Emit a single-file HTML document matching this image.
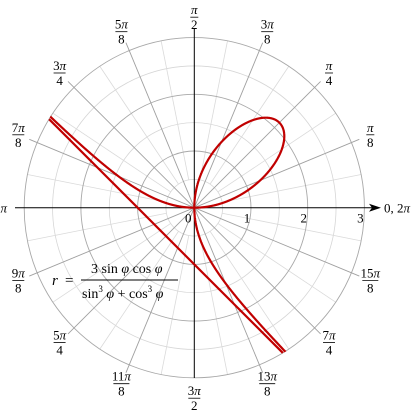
<!DOCTYPE html>
<html><head><meta charset="utf-8"><style>
html,body{margin:0;padding:0;background:#fff;}
svg{display:block;font-family:"Liberation Serif",serif;}
</style></head><body>
<svg id="chart" width="412" height="418" viewBox="0 0 412 418">
<defs><clipPath id="clip"><circle cx="194.3" cy="207.7" r="170.5"/></clipPath></defs>
<g id="grid"></g>
<g id="axes"></g>
<g id="labels"></g>
<g id="curve"></g>
<g font-size="15">
<text x="52" y="285" font-style="italic">r</text>
<text x="65" y="285">=</text>
<text x="91" y="273" font-size="14">3 sin <tspan font-style="italic">φ</tspan> cos <tspan font-style="italic">φ</tspan></text>
<line x1="81" y1="280" x2="178" y2="280" stroke="#000" stroke-width="0.9"/>
<text x="82" y="298" font-size="14">sin<tspan dy="-6" font-size="9">3</tspan><tspan dy="6"> </tspan><tspan font-style="italic">φ</tspan> + cos<tspan dy="-6" font-size="9">3</tspan><tspan dy="6"> </tspan><tspan font-style="italic">φ</tspan></text>
</g>
</svg>
<script>
const radialTicks = [0, 1, 2, 3];
const angleNums = ["0, 2π","π","3π","π","5π","3π","7π","π","9π","5π","11π","3π","13π","7π","15π"];
const angleDens = ["","8","8","4","8","2","8","4","8","","8","4","8","2","8","4","8"];
const numerators = ["", "π","π","3π","π","5π","3π","7π","π","9π","5π","11π","3π","13π","7π","15π"];
const denominators = ["", "8","4","8","2","8","4","8","","8","4","8","2","8","4","8"];
const coefA = [3];
const NS="http://www.w3.org/2000/svg";
const cx=194.3, cy=207.7, S=56.7, rMax=3;
function X(r,a){return cx + r*S*Math.cos(a);}
function Y(r,a){return cy - r*S*Math.sin(a);}
function mk(tag,attrs,parent){const e=document.createElementNS(NS,tag);for(const k in attrs)e.setAttribute(k,attrs[k]);parent.appendChild(e);return e;}
const grid=document.getElementById('grid');
// minor circles
for(let r=0.5;r<=2.6;r+=1){const c=mk('circle',{cx,cy,r:r*S,fill:'none',stroke:'#d6d6d6','stroke-width':0.8},grid);

}
// minor spokes
for(let k=1;k<32;k+=2){const a=k*Math.PI/16;const l=mk('line',{x1:X(0.5,a),y1:Y(0.5,a),x2:X(rMax,a),y2:Y(rMax,a),stroke:'#dadada','stroke-width':0.8},grid);

}
// major circles
for(const r of radialTicks){if(r===0)continue;const c=mk('circle',{cx,cy,r:r*S,fill:'none',stroke:'#a8a8a8','stroke-width':0.9},grid);

}
// major spokes
for(let k=0;k<16;k++){if(k%4===0)continue;const a=k*Math.PI/8;const l=mk('line',{x1:cx,y1:cy,x2:X(3.15,a),y2:Y(3.15,a),stroke:'#a0a0a0','stroke-width':0.9},grid);

}
// axes
const axes=document.getElementById('axes');
let ln=mk('line',{x1:15,y1:cy,x2:376,y2:cy,stroke:'#000','stroke-width':1},axes);


let ar=mk('path',{d:`M381 ${cy} L369 ${cy-4} L372 ${cy} L369 ${cy+4} Z`,fill:'#000'},axes);


ln=mk('line',{x1:cx,y1:28,x2:cx,y2:378,stroke:'#000','stroke-width':1},axes);


for(const r of radialTicks){const t=mk('text',{x:r===0?cx-6:X(r,0)-4,y:cy+15,'font-size':13,'text-anchor':'middle'},axes);t.textContent=String(r);

}
let t0=mk('text',{x:384,y:cy+5,'font-size':13},axes);t0.innerHTML='0, 2<tspan font-style="italic">π</tspan>';


// angle labels
const labels=document.getElementById('labels');
for(let k=1;k<16;k++){const a=k*Math.PI/8;const lx=X(3.36,a), ly=Y(3.36,a);
const g=mk('g',{},labels);


const num=numerators[k], den=denominators[k];
const html=num.replace('π','<tspan font-style="italic">π</tspan>');
if(den===''){const t=mk('text',{x:lx,y:ly+5,'font-size':13,'text-anchor':'middle'},g);t.innerHTML=html;}
else{const t=mk('text',{x:lx,y:ly-3,'font-size':13,'text-anchor':'middle'},g);t.innerHTML=html;
const w=num.length>2?16:(num.length>1?12:8);
mk('line',{x1:lx-w/2,y1:ly,x2:lx+w/2,y2:ly,stroke:'#000','stroke-width':0.8},g);
const d=mk('text',{x:lx,y:ly+12,'font-size':13,'text-anchor':'middle'},g);d.textContent=den;}}
// curve
const curve=document.getElementById('curve');
const A=coefA[0];
function rf(p){const s=Math.sin(p),c=Math.cos(p);return A*s*c/(s*s*s+c*c*c);}
let d='',pen=false;
for(let i=1;i<4000;i++){const p=-Math.PI/4+i*(Math.PI/4000);const r=rf(p);
if(Math.abs(r)>rMax+0.02){pen=false;continue;}
d+=(pen?'L':'M')+X(r,p).toFixed(2)+' '+Y(r,p).toFixed(2)+' ';pen=true;}
const cp=mk('path',{d,fill:'none',stroke:'#c00000','stroke-width':2.2,'clip-path':'url(#clip)'},curve);


// asymptote x+y=-A/3
const c0=A/3;const half=Math.sqrt(rMax*rMax-c0*c0/2);
const mx=-c0/2,my=-c0/2,ux=Math.SQRT1_2,uy=-Math.SQRT1_2;
const as=mk('line',{x1:cx+(mx-ux*half)*S,y1:cy-(my-uy*half)*S,x2:cx+(mx+ux*half)*S,y2:cy-(my+uy*half)*S,stroke:'#c00000','stroke-width':2.2},curve);


</script>
</body></html>
